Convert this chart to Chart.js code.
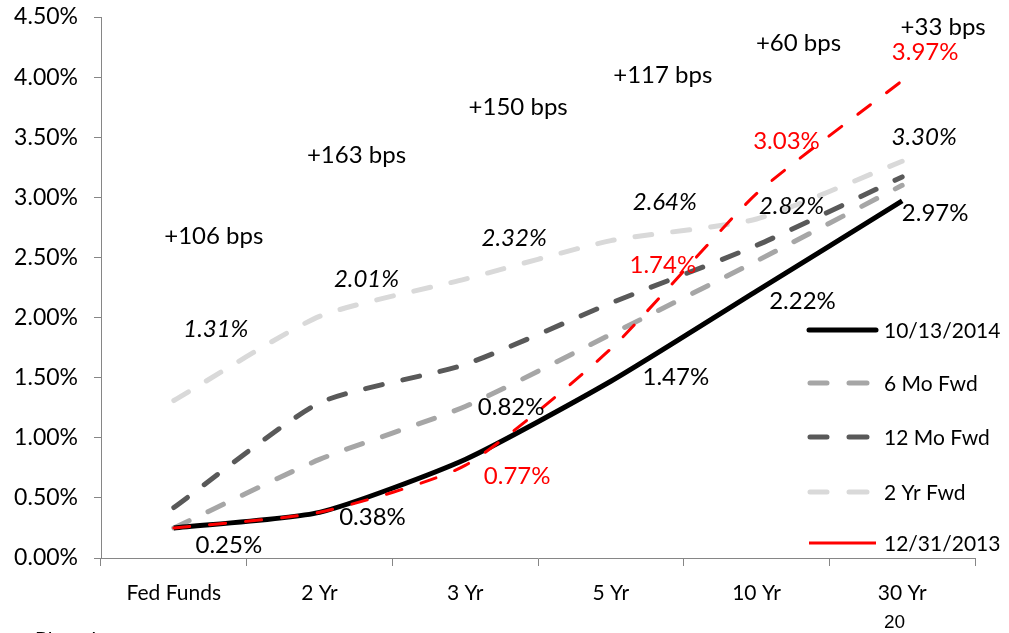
<!DOCTYPE html>
<html lang="en">

<head>
    <meta charset="UTF-8">
    <title>Yield curve vs forwards</title>
    <script src="https://cdn.jsdelivr.net/npm/chart.js"></script>
    <style>
        html, body {
            margin: 0;
            padding: 0;
            background: #fff;
        }

        /* fixed box, same size as the window */
        .chart-box {
            position: relative;
            width: 1009px;
            height: 633px;
            overflow: hidden;
        }

        .source {
            position: absolute;
            left: 35px;
            top: 626px;
            font: 20px Lato, sans-serif;
        }

        .page {
            position: absolute;
            left: 884px;
            top: 611px;
            font: 19px "Liberation Sans", Arial, sans-serif;
        }
    </style>
</head>

<body>
    <div class="chart-box">
        <canvas id="chart" width="1009" height="633"></canvas>
        <div class="source">Bloomberg</div>
        <div class="page">20</div>
    </div>

    <script>
        // data
        const categories = ['Fed Funds', '2 Yr', '3 Yr', '5 Yr', '10 Yr', '30 Yr'];
        const current = [0.25, 0.38, 0.82, 1.47, 2.22, 2.97];    // 10/13/2014
        const fwd6m = [0.25, 0.82, 1.26, 1.86, 2.47, 3.10];
        const fwd12m = [0.42, 1.29, 1.61, 2.12, 2.60, 3.17];
        const fwd2y = [1.31, 2.01, 2.32, 2.64, 2.82, 3.30];
        const lastYear = [0.25, 0.38, 0.77, 1.74, 3.03, 3.97];  // 12/31/2013
        const yTicks = [0, 0.5, 1, 1.5, 2, 2.5, 3, 3.5, 4, 4.5];

        const FONT = 'Lato, "Open Sans", sans-serif';

        // label offsets (px) from each point, null = no label
        const labelSpecs = [
            { ds: 0, font: '24px ' + FONT, color: '#000',
              off: [[55, 17], [53, 5], [46, -52], [65, -4], [46, 10], [33, 12]] },
            { ds: 3, font: 'italic 24px ' + FONT, color: '#000',
              off: [[42, -71], [47, -37], [49, -41], [54, -38], [35, -13], [22, -24]] },
            { ds: 4, font: '24px ' + FONT, color: '#ff0000',
              off: [null, null, [52, 11], [52, -84], [30, -52], [23, -28]] }
        ];
        // spread labels above the curve (fixed heights)
        const bpsPos = [[40, 236], [37, 155], [53, 107], [52, 75], [42, 43], [41, 27]];

        const pointLabels = {
            id: 'pointLabels',
            afterDatasetsDraw(chart) {
                const ctx = chart.ctx;
                ctx.save();
                ctx.textAlign = 'center';
                ctx.textBaseline = 'middle';
                labelSpecs.forEach(spec => {
                    const meta = chart.getDatasetMeta(spec.ds);
                    const values = chart.data.datasets[spec.ds].data;
                    ctx.font = spec.font;
                    ctx.fillStyle = spec.color;
                    spec.off.forEach((o, i) => {
                        if (!o) return;
                        const p = meta.data[i];
                        ctx.fillText(values[i].toFixed(2) + '%', p.x + o[0], p.y + o[1]);
                    });
                });

                // spread between 2 yr fwd and today
                const xs = chart.scales.x;
                ctx.font = '24px ' + FONT;
                ctx.fillStyle = '#000';
                categories.forEach((c, i) => {
                    const bps = Math.round((fwd2y[i] - current[i]) * 100);
                    ctx.fillText('+' + bps + ' bps', xs.getPixelForValue(i) + bpsPos[i][0], bpsPos[i][1]);
                });
                ctx.restore();
            }
        };

        // legend drawn by hand, it sits inside the plot
        const sideLegend = {
            id: 'sideLegend',
            afterDraw(chart) {
                const ctx = chart.ctx;
                const rows = [330, 383, 437, 492, 543];
                ctx.save();
                ctx.font = '21px ' + FONT;
                ctx.textBaseline = 'middle';
                ctx.textAlign = 'left';
                rows.forEach((y, i) => {
                    const ds = chart.data.datasets[i];
                    ctx.strokeStyle = ds.borderColor;
                    ctx.lineWidth = ds.borderWidth;
                    ctx.lineCap = ds.label === '12/31/2013' ? 'butt' : 'round';
                    ctx.beginPath();
                    if (ds.borderDash && ds.borderDash.length && ds.label !== '12/31/2013') {
                        ctx.moveTo(810, y); ctx.lineTo(827, y);
                        ctx.moveTo(849, y); ctx.lineTo(867, y);
                    } else {
                        ctx.moveTo(809, y); ctx.lineTo(876, y);
                    }
                    ctx.stroke();
                    ctx.fillStyle = '#000';
                    ctx.fillText(ds.label, 884, y + 1);
                });
                ctx.restore();
            }
        };

        const ctx = document.getElementById('chart').getContext('2d');
        const chart = new Chart(ctx, {
            type: 'line',
            data: {
                labels: categories,
                datasets: [
                    { label: '10/13/2014', data: current, borderColor: '#000000', borderWidth: 5, order: 1 },
                    { label: '6 Mo Fwd', data: fwd6m, borderColor: '#a6a6a6', borderWidth: 5, borderDash: [17, 21], borderCapStyle: 'round', order: 3 },
                    { label: '12 Mo Fwd', data: fwd12m, borderColor: '#595959', borderWidth: 5, borderDash: [17, 21], borderCapStyle: 'round', order: 4 },
                    { label: '2 Yr Fwd', data: fwd2y, borderColor: '#d9d9d9', borderWidth: 5, borderDash: [17, 21], borderCapStyle: 'round', order: 2 },
                    { label: '12/31/2013', data: lastYear, borderColor: '#ff0000', borderWidth: 3, borderDash: [16, 20], borderCapStyle: 'round', order: 0 }
                ]
            },
            options: {
                responsive: false,
                animation: false,
                layout: { padding: { top: 17, right: 34, left: 0, bottom: 0 } },
                elements: {
                    point: { radius: 0 },
                    line: { tension: 0.2, fill: false }
                },
                plugins: {
                    legend: { display: false },
                    tooltip: { enabled: false }
                },
                scales: {
                    x: {
                        offset: true,
                        border: { color: '#868686', width: 1 },
                        grid: { offset: true, drawOnChartArea: false, tickLength: 8, color: '#868686' },
                        ticks: { font: { family: FONT, size: 21 }, color: '#000', padding: 15, maxRotation: 0 },
                        afterFit(s) { s.height = 75; }
                    },
                    y: {
                        min: 0,
                        max: 4.5,
                        border: { color: '#868686', width: 1 },
                        grid: { drawOnChartArea: false, tickLength: 7, color: '#868686' },
                        afterBuildTicks(s) { s.ticks = yTicks.map(v => ({ value: v })); },
                        ticks: {
                            font: { family: FONT, size: 23 },
                            color: '#000',
                            padding: 16,
                            callback: v => v.toFixed(2) + '%'
                        },
                        afterFit(s) {
                            s.width = 101;
                            s.paddingTop = 0;
                            s.paddingBottom = 0;
                        }
                    }
                }
            },
            plugins: [pointLabels, sideLegend]
        });
    </script>
</body>

</html>
